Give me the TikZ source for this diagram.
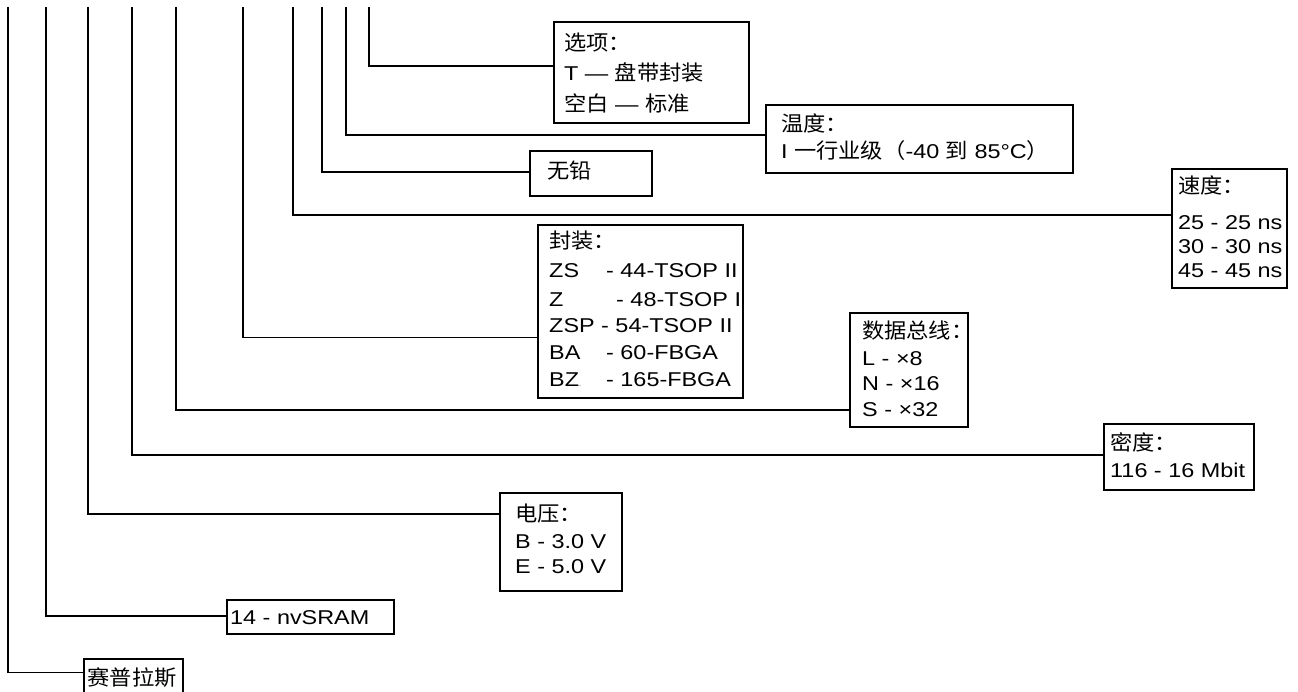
\documentclass[tikz,border=0pt]{standalone}
\usepackage{fontspec}
\setmainfont{Liberation Sans}[FakeStretch=1.17]
\newfontfamily\cjk{Noto Sans CJK SC}[Scale=1.05,FakeStretch=1.06]
\newcommand\fl{\rule{0pt}{20pt}}
\begin{document}
\begin{tikzpicture}[x=1pt,y=-1pt,
  box/.style={draw, line width=1.8pt, anchor=north west, inner sep=0pt},
  conn/.style={line width=1.7pt},
  thinconn/.style={line width=0.9pt},
  txt/.style={anchor=north west, inner sep=0pt, align=left}]
\clip (0,0) rectangle (1298,692);
% boxes
\node[box, minimum width=195pt, minimum height=101pt] (b1) at (553,21) {};
\node[box, minimum width=307pt, minimum height=68pt]  (b2) at (765,104) {};
\node[box, minimum width=122pt, minimum height=45pt]  (b3) at (529,150) {};
\node[box, minimum width=115pt, minimum height=119pt] (b4) at (1171,168) {};
\node[box, minimum width=205pt, minimum height=173pt] (b5) at (537,224) {};
\node[box, minimum width=118pt, minimum height=114pt] (b6) at (849,312) {};
\node[box, minimum width=150pt, minimum height=66pt]  (b7) at (1103,423) {};
\node[box, minimum width=122pt, minimum height=98pt]  (b8) at (499,492) {};
\node[box, minimum width=167pt, minimum height=34pt]  (b9) at (226,599) {};
\node[box, minimum width=99pt,  minimum height=50pt]  (b10) at (83,658) {};
% texts
\node[txt, font=\fontsize{20}{30.5}\selectfont] (l1) at ([xshift=11pt,yshift=-9.2pt]b1.north west)
  {\fl{\cjk 选项：}\\T — {\cjk 盘带封装}\\{\cjk 空白} — {\cjk 标准}};
\node[txt, font=\fontsize{20}{27.5}\selectfont] (l2) at ([xshift=16pt,yshift=-7.2pt]b2.north west)
  {\fl{\cjk 温度：}\\I {\cjk 一行业级（}-40 {\cjk 到} 85°C{\cjk ）}};
\node[txt, font=\fontsize{20}{27}\selectfont] (l3) at ([xshift=18pt,yshift=-8.2pt]b3.north west)
  {\fl{\cjk 无铅}};
\node[txt, font=\fontsize{20}{24.2}\selectfont] (l4) at ([xshift=7pt,yshift=-5.2pt]b4.north west)
  {\fl{\cjk 速度：}\\[11.5pt]25 - 25 ns\\30 - 30 ns\\45 - 45 ns};
\node[txt, font=\fontsize{20}{27}\selectfont] (l5) at ([xshift=12pt,yshift=-4.2pt]b5.north west)
  {\fl{\cjk 封装：}\\[2pt]\makebox[57pt][l]{ZS}- 44-TSOP II\\[2pt]\makebox[67pt][l]{Z}- 48-TSOP I\\[-1pt]ZSP - 54-TSOP II\\\makebox[57pt][l]{BA}- 60-FBGA\\\makebox[57pt][l]{BZ{\fontsize{6}{6}\selectfont.}}- 165-FBGA};
\node[txt, font=\fontsize{20}{25.5}\selectfont] (l6) at ([xshift=13pt,yshift=-6.2pt]b6.north west)
  {\fl{\cjk 数据总线：}\\[1.5pt]L - ×8\\N - ×16\\S - ×32};
\node[txt, font=\fontsize{20}{27}\selectfont] (l7) at ([xshift=7pt,yshift=-7.2pt]b7.north west)
  {\fl{\cjk 密度：}\\116 - 16 Mbit};
\node[txt, font=\fontsize{20}{25}\selectfont] (l8) at ([xshift=16pt,yshift=-9.2pt]b8.north west)
  {\fl{\cjk 电压：}\\[2pt]B - 3.0 V\\E - 5.0 V};
\node[txt, font=\fontsize{20}{25}\selectfont] (l9) at ([xshift=4pt,yshift=-5.7pt]b9.north west)
  {\fl 14 - nvSRAM};
\node[txt, font=\fontsize{20}{25}\selectfont] (l10) at ([xshift=4.5pt,yshift=-7.2pt]b10.north west)
  {\fl{\cjk 赛普拉斯}};
% connector tops
\coordinate (t1) at (369,7);
\coordinate (t2) at (346,7);
\coordinate (t3) at (322,7);
\coordinate (t4) at (293,7);
\coordinate (t5) at (243,7);
\coordinate (t6) at (176,7);
\coordinate (t7) at (132,7);
\coordinate (t8) at (88,7);
\coordinate (t9) at (46,7);
\coordinate (t10) at (8,7);
% connectors
\draw[conn] (t1) |- ([yshift=6.5pt]b1.west);
\draw[conn] (t2) |- ([yshift=4pt]b2.west);
\draw[conn] (t3) |- ([yshift=1.5pt]b3.west);
\draw[conn] (t4) |- ([yshift=13.5pt]b4.west);
\coordinate (j5) at ([yshift=-26.5pt]b5.west);
\draw[conn] (t5) -- (t5 |- j5);
\draw[thinconn] (t5 |- j5) -- (j5);
\draw[conn] (t6) |- ([yshift=-40pt]b6.west);
\draw[conn] (t7) |- ([yshift=2pt]b7.west);
\draw[conn] (t8) |- ([yshift=28pt]b8.west);
\draw[conn] (t9) |- ([yshift=1pt]b9.west);
\coordinate (j10) at ([yshift=11pt]b10.west);
\draw[conn] (t10) -- (t10 |- j10);
\draw[thinconn] (t10 |- j10) -- (j10);
\end{tikzpicture}
\end{document}
